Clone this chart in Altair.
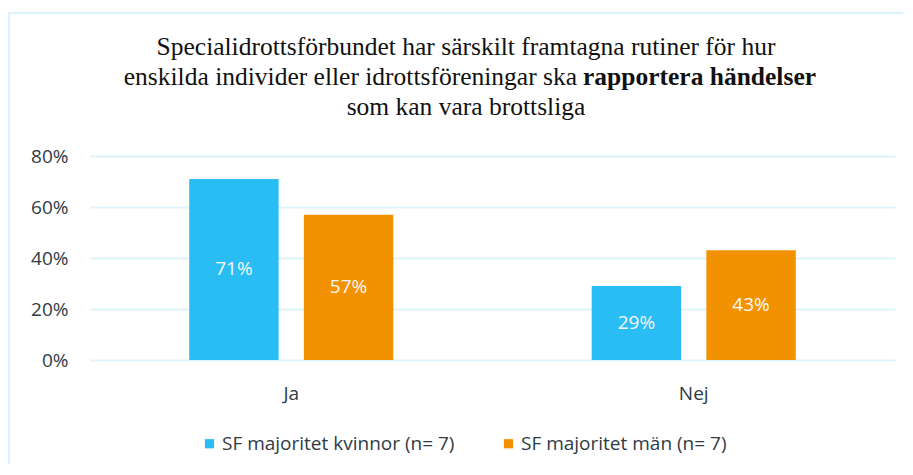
import altair as alt
import pandas as pd

categories = ["Ja", "Nej"]
series = ["SF majoritet kvinnor (n= 7)", "SF majoritet män (n= 7)"]
kvinnor = [0.71, 0.29]
man = [0.57, 0.43]
colors = ["#29BDF4", "#F39200"]

title_lines = [
    "Specialidrottsförbundet har särskilt framtagna rutiner för hur",
    "enskilda individer eller idrottsföreningar ska",
    "rapportera händelser",
    "som kan vara brottsliga",
]

rows = []
for i, c in enumerate(categories):
    rows.append({"cat": c, "series": series[0], "value": kvinnor[i]})
    rows.append({"cat": c, "series": series[1], "value": man[i]})
df = pd.DataFrame(rows)
df["mid"] = df["value"] / 2
df["label"] = (df["value"] * 100).round().astype(int).astype(str) + "%"

W, H = 805, 204
sans = "Open Sans"
serif = "Liberation Serif"
TS = 25.5
txtc = "#2f3b45"

xenc = alt.X("cat:N", sort=categories, title=None,
             scale=alt.Scale(paddingInner=0.493, paddingOuter=0.2465),
             axis=alt.Axis(labelAngle=0, labelFontSize=19, labelFont=sans,
                           labelColor=txtc, labelPadding=24,
                           domain=False, ticks=False, grid=False))
xoff = alt.XOffset("series:N", sort=series,
                   scale=alt.Scale(paddingInner=0.22, paddingOuter=0))

base = alt.Chart(df)

bars = base.mark_bar().encode(
    x=xenc,
    xOffset=xoff,
    y=alt.Y("value:Q", title=None,
            scale=alt.Scale(domain=[0, 0.8], nice=False),
            axis=alt.Axis(format=".0%", values=[0, 0.2, 0.4, 0.6, 0.8],
                          labelFontSize=19, labelFont=sans, labelColor=txtc,
                          labelPadding=22, domain=False, ticks=False,
                          gridColor="#dff3fb", gridWidth=2)),
    color=alt.Color("series:N", sort=series,
                    scale=alt.Scale(domain=series, range=colors),
                    legend=alt.Legend(title=None, orient="none", direction="horizontal",
                                      legendX=110, legendY=278,
                                      symbolType="square", symbolSize=85,
                                      symbolStrokeWidth=0, labelFont=sans,
                                      labelFontSize=19, labelColor=txtc,
                                      labelLimit=0,
                                      labelOffset=3, columnPadding=44)),
)

labels = base.mark_text(color="#f7f7f7", fontSize=19, font=sans).encode(
    x=alt.X("cat:N", sort=categories),
    xOffset=alt.XOffset("series:N", sort=series),
    y=alt.Y("mid:Q"),
    text="label:N",
)

tdf = pd.DataFrame({"t": [0]})
tb = alt.Chart(tdf)
t1 = tb.mark_text(font=serif, fontSize=TS, color="#111", align="center", baseline="middle").encode(
    x=alt.value(376), y=alt.value(-109), text=alt.value(title_lines[0]))
t2a = tb.mark_text(font=serif, fontSize=TS, color="#111", align="right", baseline="middle").encode(
    x=alt.value(487), y=alt.value(-79), text=alt.value(title_lines[1]))
t2b = tb.mark_text(font=serif, fontSize=TS, color="#111", fontWeight="bold", align="left", baseline="middle").encode(
    x=alt.value(493), y=alt.value(-79), text=alt.value(title_lines[2]))
t3 = tb.mark_text(font=serif, fontSize=TS, color="#111", align="center", baseline="middle").encode(
    x=alt.value(376), y=alt.value(-49), text=alt.value(title_lines[3]))

frame = tb.mark_rect(fill=None, stroke="#dff3fb", strokeWidth=2.5).encode(
    x=alt.value(-81), x2=alt.value(840), y=alt.value(-143), y2=alt.value(340))

chart = alt.layer(frame, bars, labels, t1, t2a, t2b, t3).properties(
    width=W, height=H,
    autosize=alt.AutoSizeParams(type="none"),
    padding={"left": 82, "top": 148, "right": 8, "bottom": 104},
).configure_view(stroke=None)

chart.save("out.html", embed_options={"renderer": "svg", "actions": False})
